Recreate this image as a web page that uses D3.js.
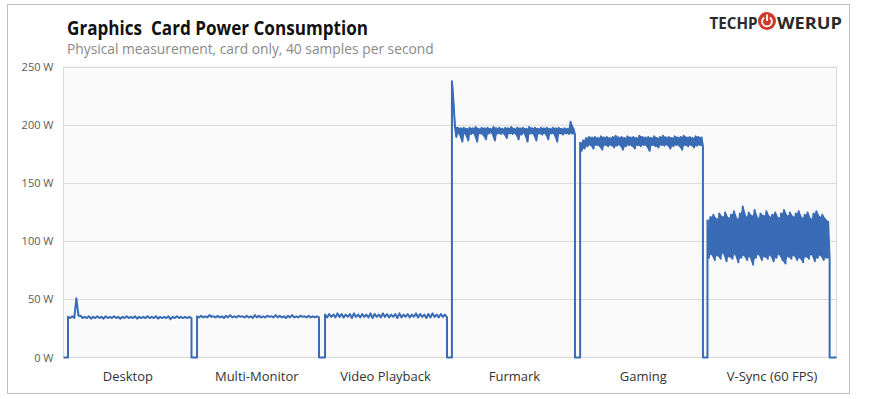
<!DOCTYPE html>
<html>
<head>
<meta charset="utf-8">
<script src="https://cdn.jsdelivr.net/npm/d3@7/dist/d3.min.js"></script>
<style>
    body { margin: 0; background: #fff; }
    text { font-family: "Open Sans", "Noto Sans", sans-serif; }
</style>
</head>
<body>
<div id="chart"></div>
<script>
// test phases shown on the x axis
var categories = ["Desktop", "Multi-Monitor", "Video Playback", "Furmark", "Gaming", "V-Sync (60 FPS)"];
var yTicks = [0, 50, 100, 150, 200, 250];

// seconds where each phase switches on / off
var riseTimes = [2.1, 62.2, 121.8, 180.9, 240.6, 299.9];
var dropTimes = [59.6, 119.0, 178.6, 238.2, 297.8, 356.8];

// upper / lower readings of the noisy trace, watts
var desktopHi = [35, 35.5, 51, 36, 35, 35.5, 35, 35.5, 35, 35.5, 35, 35.5, 35, 35, 35.5, 35, 35.5, 35, 35, 35.5, 35, 35.5, 35, 35, 35.5, 35, 35.5, 35, 35, 35];
var desktopLo = [34, 34, 36, 34, 34, 33.5, 34, 34, 33.5, 34, 34, 34, 33.5, 34, 34, 34, 33.5, 34, 34, 34, 34, 33.5, 34, 34, 33, 34, 34, 34, 34, 34];
var multiHi = [35.5, 36, 35.5, 36.5, 35.5, 36, 35.5, 36, 36.5, 35.5, 36, 35.5, 36, 35.5, 36.5, 36, 35.5, 36, 35.5, 36.5, 36, 35.5, 36, 36.5, 35.5, 36, 35.5, 36, 35.5, 35.5];
var multiLo = [34.5, 34.5, 34.5, 35, 34.5, 34.5, 34, 34.5, 34.5, 34.5, 35, 34.5, 34.5, 34, 34.5, 34.5, 34.5, 35, 34.5, 34.5, 34.5, 34, 34.5, 34.5, 34.5, 35, 34.5, 34.5, 34.5, 34.5];
var videoHi = [37, 37.5, 37, 38, 37.5, 37, 37.5, 38, 37, 37.5, 37, 38, 37.5, 37, 38, 37.5, 37, 37.5, 38, 37, 37.5, 37, 38, 37.5, 37, 37.5, 38, 37, 37.5, 37];
var videoLo = [34.5, 35, 34.5, 35, 34.5, 35, 34, 35, 34.5, 35, 34.5, 34, 35, 34.5, 35, 34.5, 35, 34, 34.5, 35, 34.5, 35, 34.5, 35, 34, 34.5, 35, 34.5, 35, 34.5];
var furmarkHi = [238, 199, 198, 197.5, 198, 197, 198, 197.5, 198.5, 197, 198, 197.5, 198, 197, 198.5, 197.5, 198, 197, 198, 197.5, 198.5, 197, 198, 197.5, 198, 197, 198.5, 197.5, 198, 197, 198, 197.5, 198, 197, 198, 197.5, 198, 197, 197.5, 197, 203, 197];
var furmarkLo = [221, 190, 193, 186, 193, 187, 192.5, 193, 186, 193, 192, 188, 193, 193.5, 187, 193, 192.5, 193, 189, 193, 192.5, 193, 188, 192, 193, 186, 193, 192.5, 187, 193, 192, 193, 188, 193, 192.5, 186, 193, 192, 193, 192.5, 193, 192];
var gamingHi = [185, 187, 189, 190, 189.5, 190, 189, 190.5, 189.5, 190, 189, 190, 191, 189.5, 190, 189, 190.5, 189.5, 190, 189, 191, 190, 189.5, 190, 189, 190.5, 189, 190, 191, 189.5, 190, 189, 190.5, 189.5, 190, 191, 189.5, 190, 189, 190.5, 190, 189.5];
var gamingLo = [178, 180, 182, 183, 180, 183, 182.5, 179, 183, 182, 183, 181, 182.5, 183, 179, 182, 183, 182.5, 180, 183, 182, 183, 182.5, 178, 183, 182, 181, 183, 182.5, 183, 180, 182, 183, 182.5, 179, 183, 182, 183, 181, 182.5, 183, 182];
var vsyncHi = [118, 121, 123, 119, 124, 121, 125, 120, 123, 126, 119, 124, 130, 121, 125, 122, 127, 120, 124, 122, 126, 121, 123, 125, 120, 124, 127, 122, 125, 121, 124, 126, 120, 123, 125, 119, 124, 126, 121, 123, 119, 117];
var vsyncLo = [86, 89, 84, 88, 85, 90, 83, 87, 85, 89, 82, 86, 88, 84, 87, 80, 86, 89, 84, 87, 85, 88, 83, 86, 89, 84, 81, 87, 85, 88, 84, 86, 82, 87, 85, 89, 83, 86, 88, 84, 86, 85];

var hiValues = [desktopHi, multiHi, videoHi, furmarkHi, gamingHi, vsyncHi];
var loValues = [desktopLo, multiLo, videoLo, furmarkLo, gamingLo, vsyncLo];

var totalWidth = 870, totalHeight = 399;
var margin = { top: 67.3, right: 33.5, bottom: 41.5, left: 63.5 };
var width = totalWidth - margin.left - margin.right;
var height = totalHeight - margin.top - margin.bottom;
var blue = "#3a6bb5";

var svg = d3.select("#chart")
    .append("svg")
    .attr("width", totalWidth)
    .attr("height", totalHeight);

// outer frame
svg.append("rect")
    .attr("x", 7.5).attr("y", 4.5)
    .attr("width", 842).attr("height", 389)
    .style("fill", "#fff")
    .style("stroke", "#bfbfbf");

// titles
svg.append("text")
    .attr("x", 67).attr("y", 35)
    .attr("xml:space", "preserve")
    .attr("textLength", 301)
    .attr("lengthAdjust", "spacingAndGlyphs")
    .style("font-size", "19.5px")
    .style("font-weight", "700")
    .style("fill", "#111")
    .text("Graphics  Card Power Consumption");

svg.append("text")
    .attr("x", 67).attr("y", 54)
    .style("font-size", "13.8px")
    .style("fill", "#8a8a8a")
    .text("Physical measurement, card only, 40 samples per second");

// logo
var logo = svg.append("g");
logo.append("text")
    .attr("x", 757.5).attr("y", 28.5)
    .attr("text-anchor", "end")
    .attr("textLength", 48)
    .attr("lengthAdjust", "spacingAndGlyphs")
    .style("font-size", "16.5px").style("font-weight", "700")
    .style("fill", "#2b2b2b")
    .text("TECHP");
logo.append("circle")
    .attr("cx", 767).attr("cy", 21).attr("r", 9)
    .style("fill", "#cc3b2d");
logo.append("path")
    .attr("d", d3.arc()({ innerRadius: 4, outerRadius: 5.8, startAngle: 0.6, endAngle: 2 * Math.PI - 0.6 }))
    .attr("transform", "translate(767,21.5)")
    .style("fill", "#fff");
logo.append("rect")
    .attr("x", 766.1).attr("y", 14.5).attr("width", 1.8).attr("height", 6.5)
    .style("fill", "#fff");
logo.append("text")
    .attr("x", 777).attr("y", 28.5)
    .attr("textLength", 65)
    .attr("lengthAdjust", "spacingAndGlyphs")
    .style("font-size", "16.5px").style("font-weight", "700")
    .style("fill", "#2b2b2b")
    .text("WERUP");

var g = svg.append("g")
    .attr("transform", "translate(" + margin.left + "," + margin.top + ")");

var x = d3.scaleLinear().domain([0, 360]).range([0, width]);
var y = d3.scaleLinear().domain([0, 250]).range([height, 0]);
var band = d3.scaleBand().domain(categories).range([0, width]);

g.append("rect")
    .attr("width", width).attr("height", height)
    .style("fill", "#fafafa")
    .style("stroke", "#d9d9d9");

// gridlines
g.append("g")
    .selectAll("line")
    .data(yTicks)
    .enter()
    .append("line")
    .attr("x1", 0).attr("x2", width)
    .attr("y1", function(d) { return y(d); })
    .attr("y2", function(d) { return y(d); })
    .style("stroke", "#d9d9d9");

var yAxis = g.append("g")
    .call(d3.axisLeft(y).tickValues(yTicks).tickSize(0).tickPadding(10)
        .tickFormat(function(d) { return d + " W"; }));
yAxis.select(".domain").remove();
yAxis.selectAll("text")
    .style("font-size", "11px")
    .style("fill", "#595959")
    .style("font-family", "'Open Sans', sans-serif");

var xAxis = g.append("g")
    .attr("transform", "translate(0," + height + ")")
    .call(d3.axisBottom(band).tickSize(0).tickPadding(14));
xAxis.select(".domain").remove();
xAxis.selectAll("text")
    .style("font-size", "13px")
    .style("fill", "#333")
    .style("font-family", "'Open Sans', sans-serif");

// build the trace: zero between phases, hi/lo alternating inside a phase
var points = [{ t: 0, w: 0 }];
var bands = [];
categories.forEach(function(c, s) {
    var hi = hiValues[s], lo = loValues[s], n = hi.length;
    var step = (dropTimes[s] - riseTimes[s]) / (n - 0.5);
    var seg = [];
    points.push({ t: riseTimes[s], w: 0 });
    for (var i = 0; i < n; i++) {
        points.push({ t: riseTimes[s] + step * i, w: hi[i] });
        points.push({ t: riseTimes[s] + step * (i + 0.5), w: lo[i] });
        seg.push({ t: riseTimes[s] + step * (i + 0.25), hi: hi[i], lo: lo[i] });
    }
    points.push({ t: dropTimes[s], w: 0 });
    bands.push(seg);
});
points.push({ t: 360, w: 0 });

// solid core of each noisy phase
var area = d3.area()
    .x(function(d) { return x(d.t); })
    .y0(function(d) { return y(d.lo); })
    .y1(function(d) { return y(d.hi); });

g.append("g")
    .selectAll("path")
    .data(bands.slice(3))
    .enter()
    .append("path")
    .attr("d", area)
    .style("fill", blue);

var line = d3.line()
    .x(function(d) { return x(d.t); })
    .y(function(d) { return y(d.w); });

g.append("path")
    .datum(points)
    .attr("d", line)
    .style("fill", "none")
    .style("stroke", blue)
    .style("stroke-width", 2)
    .style("stroke-linejoin", "round");
</script>
</body>
</html>
